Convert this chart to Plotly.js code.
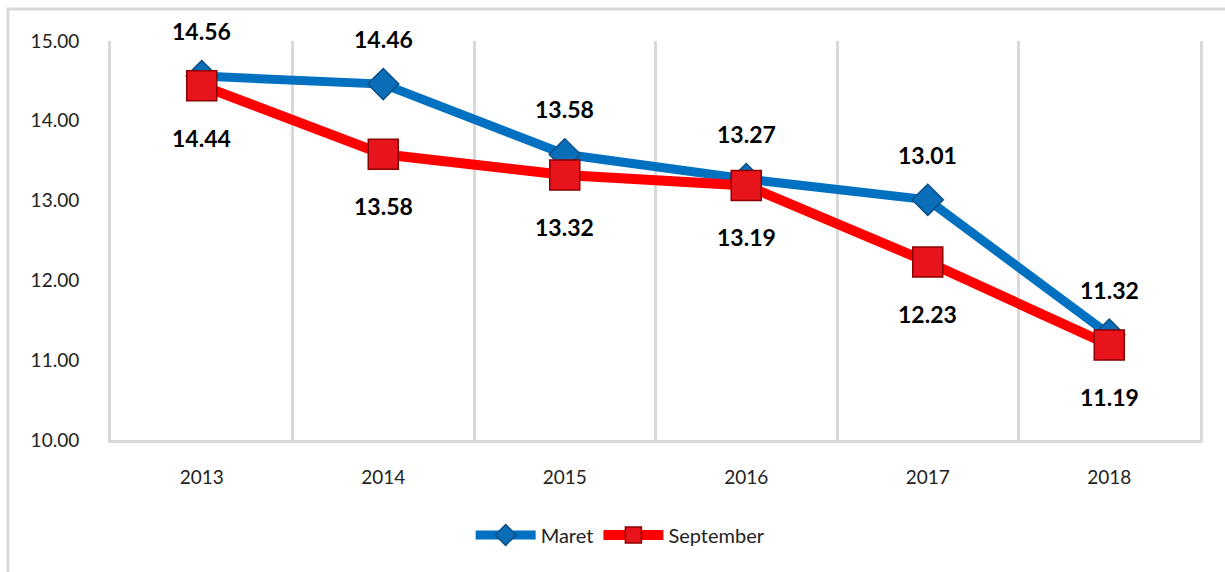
<!DOCTYPE html>
<html>
<head>
<meta charset="utf-8">
<script src="https://cdn.plot.ly/plotly-3.0.1.min.js"></script>
<style>html,body{margin:0;padding:0;background:#fff;}#chart{width:1225px;height:572px;}</style>
</head>
<body>
<div id="chart"></div>
<script>
const years = ['2013', '2014', '2015', '2016', '2017', '2018'];
const maret = [14.56, 14.46, 13.58, 13.27, 13.01, 11.32];
const september = [14.44, 13.58, 13.32, 13.19, 12.23, 11.19];
const yTicks = [10, 11, 12, 13, 14, 15];

const FONT = 'Lato, "Liberation Sans", sans-serif';

const traces = [
  {
    x: years, y: maret, name: 'Maret', type: 'scatter', mode: 'lines+markers',
    line: {color: '#0070C0', width: 9},
    marker: {symbol: 'diamond', size: 24, color: '#0A6DB8', line: {color: '#0B4E86', width: 1.5}}
  },
  {
    x: years, y: september, name: 'September', type: 'scatter', mode: 'lines+markers',
    line: {color: '#FF0000', width: 10},
    marker: {symbol: 'square', size: 30, color: '#E8141B', line: {color: '#8B0000', width: 1.5}}
  }
];

const annotations = [];
years.forEach((yr, i) => {
  annotations.push({x: i, y: maret[i], text: '<b>' + maret[i].toFixed(2) + '</b>', showarrow: false,
    yshift: 45, font: {family: FONT, size: 23, color: '#000'}, xref: 'x', yref: 'y'});
  annotations.push({x: i, y: september[i], text: '<b>' + september[i].toFixed(2) + '</b>', showarrow: false,
    yshift: -52, font: {family: FONT, size: 23, color: '#000'}, xref: 'x', yref: 'y'});
});

const layout = {
  width: 1225, height: 572,
  margin: {l: 111, r: 25, t: 41, b: 132},
  paper_bgcolor: '#fff', plot_bgcolor: '#fff',
  font: {family: FONT, size: 19, color: '#222'},
  showlegend: true,
  legend: {orientation: 'h', x: 0.468, xanchor: 'center', y: -0.238, yanchor: 'middle',
    font: {family: FONT, size: 20, color: '#222'}, itemsizing: 'trace', itemwidth: 60,
    tracegroupgap: 0},
  xaxis: {
    type: 'category', categoryarray: years, range: [-0.5, 5.5], tickson: 'boundaries',
    showgrid: true, gridcolor: '#d9d9d9', gridwidth: 3,
    showline: true, linecolor: '#d9d9d9', linewidth: 3, ticks: '', zeroline: false,
    tickangle: 0, tickfont: {family: FONT, size: 19, color: '#222'}, ticklabelstandoff: 18
  },
  yaxis: {
    range: [10, 15], tickvals: yTicks, tickformat: '.2f', showgrid: false, zeroline: false,
    showline: true, mirror: true, linecolor: '#d9d9d9', linewidth: 3,
    ticks: '', tickfont: {family: FONT, size: 19, color: '#222'},
    ticklabelstandoff: 25
  },
  annotations: annotations,
  shapes: [{type: 'rect', xref: 'paper', yref: 'paper', x0: -0.0946, x1: 1.0257, y0: -0.336, y1: 1.080,
    line: {color: '#d9d9d9', width: 3}, fillcolor: 'rgba(0,0,0,0)', layer: 'below'}]
};

Plotly.newPlot('chart', traces, layout, {displayModeBar: false});
</script>
</body>
</html>
